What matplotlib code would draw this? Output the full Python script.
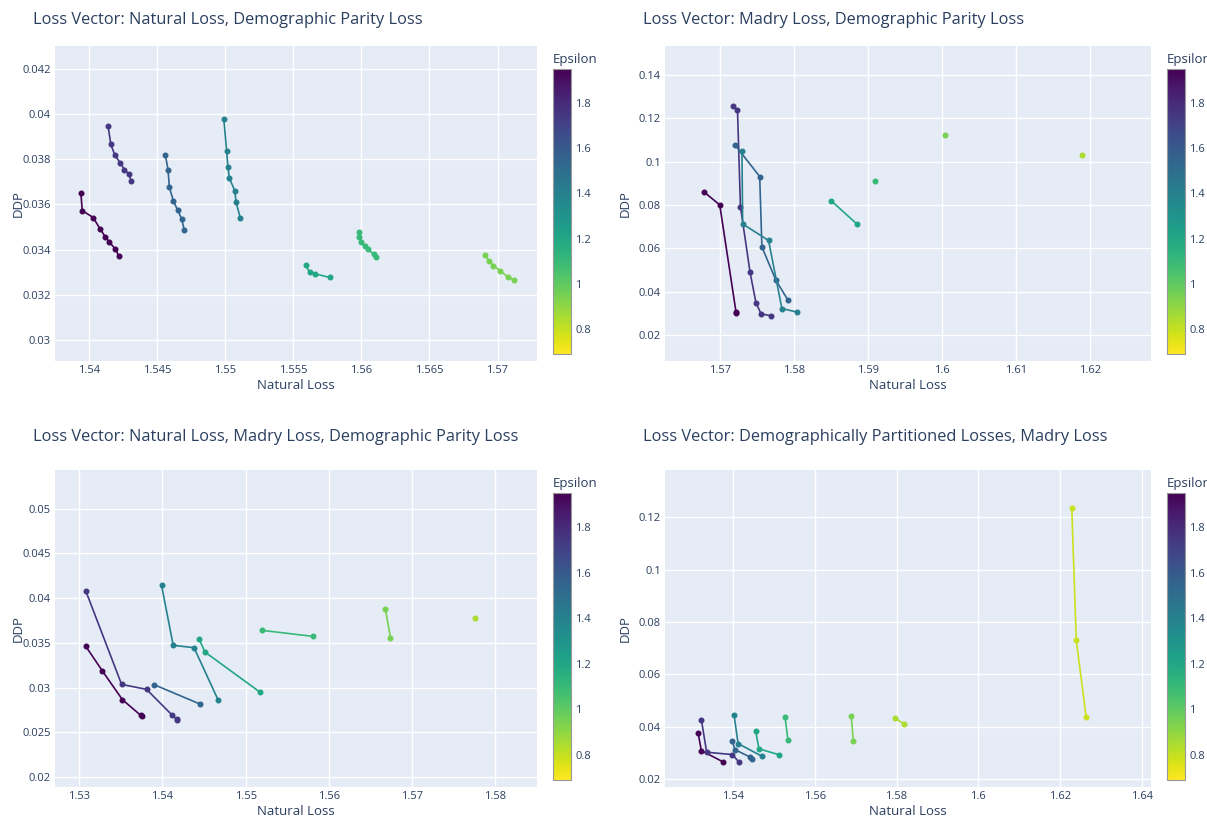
import matplotlib
matplotlib.use('Agg')
from matplotlib import pyplot as plt
from matplotlib import cm, colors

plt.rcParams['font.family'] = ['Open Sans', 'DejaVu Sans']

# Panel 1: Natural Loss, Demographic Parity Loss
p1_eps = [1.95, 1.75, 1.55, 1.4, 1.2, 1.1, 0.95]
p1_x = [
    [1.5394, 1.5395, 1.5403, 1.5408, 1.5412, 1.5415, 1.5419, 1.5422],
    [1.5414, 1.5416, 1.5419, 1.5423, 1.5426, 1.5429, 1.5431],
    [1.5456, 1.5458, 1.5459, 1.5462, 1.5465, 1.5468, 1.5470],
    [1.5499, 1.5501, 1.5502, 1.5503, 1.5507, 1.5508, 1.5511],
    [1.5559, 1.5562, 1.5566, 1.5577],
    [1.5598, 1.5598, 1.5600, 1.5603, 1.5605, 1.5609, 1.5611],
    [1.5691, 1.5694, 1.5697, 1.5702, 1.5708, 1.5712],
]
p1_y = [
    [0.03651, 0.03573, 0.03542, 0.03493, 0.03456, 0.03433, 0.03405, 0.03372],
    [0.03946, 0.03865, 0.03817, 0.03783, 0.03754, 0.03735, 0.03705],
    [0.03819, 0.03754, 0.03676, 0.03614, 0.03576, 0.03536, 0.03486],
    [0.03978, 0.03838, 0.03766, 0.03717, 0.03661, 0.03610, 0.03542],
    [0.03333, 0.03300, 0.03293, 0.03277],
    [0.03479, 0.03458, 0.03436, 0.03416, 0.03402, 0.03379, 0.03369],
    [0.03375, 0.03348, 0.03330, 0.03307, 0.03277, 0.03267],
]

# Panel 2: Madry Loss, Demographic Parity Loss
p2_eps = [1.95, 1.75, 1.55, 1.4, 1.2, 1.1, 0.95, 0.85]
p2_x = [
    [1.5679, 1.5700, 1.5722, 1.5722],
    [1.5718, 1.5724, 1.5728, 1.5741, 1.5749, 1.5756, 1.5769],
    [1.5721, 1.5754, 1.5757, 1.5776, 1.5792],
    [1.5730, 1.5731, 1.5766, 1.5784, 1.5804],
    [1.5851, 1.5885],
    [1.5910],
    [1.6004],
    [1.6190],
]
p2_y = [
    [0.0860, 0.0801, 0.0307, 0.0302],
    [0.1259, 0.1237, 0.0793, 0.0490, 0.0349, 0.0298, 0.0290],
    [0.1076, 0.0932, 0.0607, 0.0453, 0.0363],
    [0.1050, 0.0713, 0.0637, 0.0323, 0.0307],
    [0.0819, 0.0714],
    [0.0913],
    [0.1122],
    [0.1031],
]

# Panel 3: Natural Loss, Madry Loss, Demographic Parity Loss
p3_eps = [1.95, 1.75, 1.55, 1.4, 1.2, 1.1, 0.95, 0.85]
p3_x = [
    [1.5308, 1.5328, 1.5352, 1.5374, 1.5375],
    [1.5308, 1.5351, 1.5381, 1.5412, 1.5418, 1.5417],
    [1.5390, 1.5445],
    [1.5399, 1.5413, 1.5438, 1.5467],
    [1.5444, 1.5451, 1.5517],
    [1.5520, 1.5581],
    [1.5668, 1.5674],
    [1.5776],
]
p3_y = [
    [0.03461, 0.03185, 0.02865, 0.02690, 0.02683],
    [0.04079, 0.03036, 0.02980, 0.02690, 0.02642, 0.02645],
    [0.03033, 0.02817],
    [0.04142, 0.03472, 0.03446, 0.02861],
    [0.03547, 0.03398, 0.02951],
    [0.03639, 0.03572],
    [0.03873, 0.03557],
    [0.03777],
]

# Panel 4: Demographically Partitioned Losses, Madry Loss
p4_eps = [1.95, 1.75, 1.55, 1.4, 1.2, 1.1, 0.95, 0.85, 0.79]
p4_x = [
    [1.5314, 1.5322, 1.5374],
    [1.5322, 1.5335, 1.5398, 1.5413],
    [1.5398, 1.5404, 1.5442, 1.5447],
    [1.5402, 1.5412, 1.5470],
    [1.5455, 1.5463, 1.5513],
    [1.5527, 1.5534],
    [1.5689, 1.5694],
    [1.5795, 1.5818],
    [1.6229, 1.6240, 1.6264],
]
p4_y = [
    [0.0376, 0.0308, 0.0266],
    [0.0427, 0.0302, 0.0293, 0.0266],
    [0.0344, 0.0312, 0.0283, 0.0275],
    [0.0445, 0.0335, 0.0287],
    [0.0383, 0.0315, 0.0292],
    [0.0436, 0.0349],
    [0.0441, 0.0345],
    [0.0434, 0.0410],
    [0.1236, 0.0731, 0.0438],
]

titles = [
    'Loss Vector: Natural Loss, Demographic Parity Loss',
    'Loss Vector: Madry Loss, Demographic Parity Loss',
    'Loss Vector: Natural Loss, Madry Loss, Demographic Parity Loss',
    'Loss Vector: Demographically Partitioned Losses, Madry Loss',
]
cbar_ticks = [0.8, 1, 1.2, 1.4, 1.6, 1.8]

W, H = 1207, 818
TXT = '#2a3f5f'
BG = '#E5ECF6'
cmap = plt.get_cmap('viridis_r')
norm = colors.Normalize(vmin=0.69, vmax=1.95)


def px_axes(fig, left, top, right, bottom):
    return fig.add_axes([left / W, 1 - bottom / H, (right - left) / W, (bottom - top) / H])


def fmt(v, pos=None):
    return f'{round(v, 6):g}'


fig = plt.figure(figsize=(W / 100, H / 100), dpi=100)

panels = [
    (p1_eps, p1_x, p1_y, (55, 46, 537, 361), 24, (1.5375, 1.5729), (0.02908, 0.0430),
     [1.54, 1.545, 1.55, 1.555, 1.56, 1.565, 1.57], [0.03, 0.032, 0.034, 0.036, 0.038, 0.04, 0.042]),
    (p2_eps, p2_x, p2_y, (665, 46, 1151, 361), 24, (1.5626, 1.6283), (0.0081, 0.1534),
     [1.57, 1.58, 1.59, 1.6, 1.61, 1.62], [0.02, 0.04, 0.06, 0.08, 0.1, 0.12, 0.14]),
    (p3_eps, p3_x, p3_y, (55, 470, 537, 787), 441, (1.5271, 1.585), (0.0189, 0.0543),
     [1.53, 1.54, 1.55, 1.56, 1.57, 1.58], [0.02, 0.025, 0.03, 0.035, 0.04, 0.045, 0.05]),
    (p4_eps, p4_x, p4_y, (665, 470, 1151, 787), 441, (1.5233, 1.6423), (0.0169, 0.1381),
     [1.54, 1.56, 1.58, 1.6, 1.62, 1.64], [0.02, 0.04, 0.06, 0.08, 0.1, 0.12]),
]

for i, (eps, xs, ys, box, title_y, xlim, ylim, xt, yt) in enumerate(panels):
    left, top, right, bottom = box
    ax = px_axes(fig, left, top, right, bottom)
    ax.set_facecolor(BG)
    for e, x, y in zip(eps, xs, ys):
        ax.plot(x, y, color=cmap(norm(e)), lw=1.2, marker='o', ms=3.3, zorder=3)
    ax.set_xlim(*xlim)
    ax.set_ylim(*ylim)
    ax.set_xticks(xt)
    ax.set_yticks(yt)
    ax.xaxis.set_major_formatter(fmt)
    ax.yaxis.set_major_formatter(fmt)
    ax.grid(True, color='white', lw=1)
    ax.set_axisbelow(True)
    for s in ax.spines.values():
        s.set_visible(False)
    ax.tick_params(length=0, labelsize=8, labelcolor=TXT, pad=3)
    ax.set_xlabel('Natural Loss', fontsize=9.5, color=TXT)
    ax.set_ylabel('DDP', fontsize=9.5, color=TXT)
    ax.xaxis.set_label_coords(0.5, -18 / (bottom - top))
    ax.yaxis.set_label_coords(-(left - (25 if left < 600 else 632)) / (right - left), 0.5)

    fig.text((left - 22) / W, 1 - title_y / H, titles[i], fontsize=11.8, color=TXT,
             ha='left', va='baseline')

    # colorbar to the right of the plot
    cax = px_axes(fig, right + 16, top + 23, right + 34, bottom - 7)
    sm = cm.ScalarMappable(norm=norm, cmap=cmap)
    cb = fig.colorbar(sm, cax=cax, ticks=cbar_ticks)
    cb.ax.yaxis.set_major_formatter(fmt)
    cb.ax.tick_params(length=0, labelsize=8, labelcolor=TXT, pad=3)
    cb.outline.set_edgecolor('#999999')
    cb.outline.set_linewidth(0.8)
    fig.text((right + 16) / W, 1 - (top + 17) / H, 'Epsilon', fontsize=9.5, color=TXT,
             ha='left', va='baseline')

plt.savefig('out.png', dpi=100, facecolor='white')
plt.close()
